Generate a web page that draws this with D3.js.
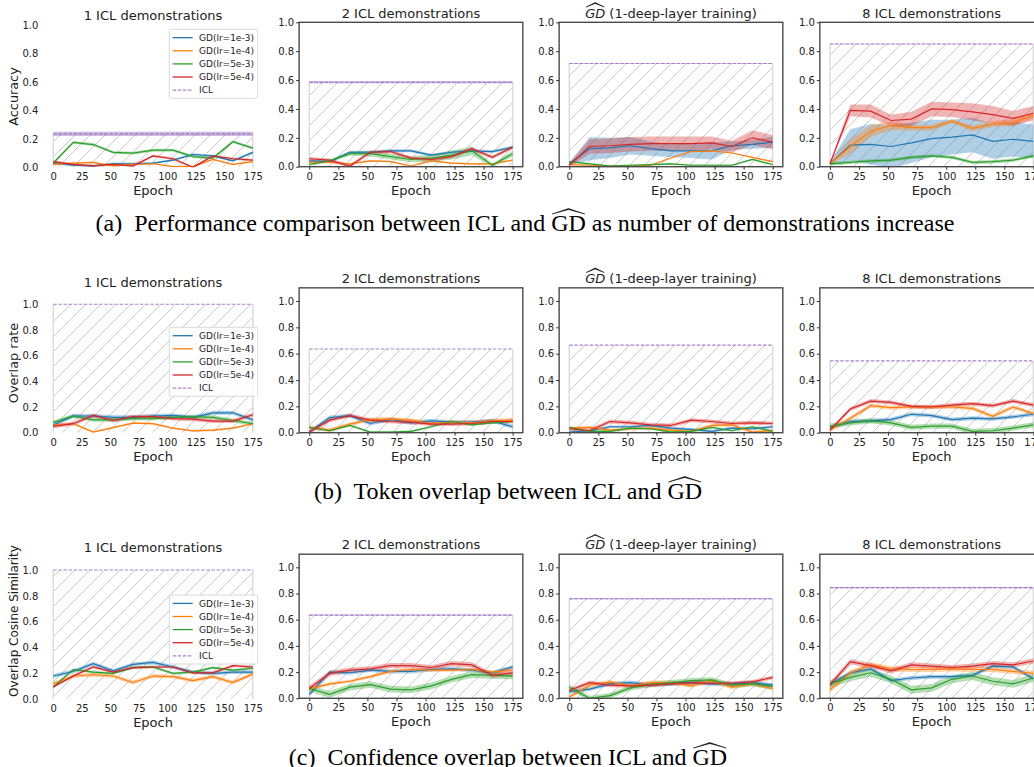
<!DOCTYPE html>
<html>
<head>
<meta charset="utf-8">
<script src="https://cdn.jsdelivr.net/npm/d3@7"></script>
<style>
  body { margin: 0; background: #fff; }
  text { font-family: "DejaVu Sans", sans-serif; }
</style>
</head>
<body>
<script>
// epochs sampled along the x axis
var epochs = [0, 17.5, 35, 52.5, 70, 87.5, 105, 122.5, 140, 157.5, 175];
var xTicks = [0, 25, 50, 75, 100, 125, 150, 175];
var yTicks = [0, 0.2, 0.4, 0.6, 0.8, 1.0];

var seriesNames = ["GD(lr=1e-3)", "GD(lr=1e-4)", "GD(lr=5e-3)", "GD(lr=5e-4)"];
var seriesColors = ["#1f77b4", "#ff7f0e", "#2ca02c", "#d62728"];
var iclName = "ICL";
var iclColor = "#9467bd";

var panelTitles = ["1 ICL demonstrations", "2 ICL demonstrations", "GD", "8 ICL demonstrations"];
var rowYLabels = ["Accuracy", "Overlap rate", "Overlap Cosine Similarity"];
var captions = [
  ["(a)  Performance comparison between ICL and ", " as number of demonstrations increase"],
  ["(b)  Token overlap between ICL and ", ""],
  ["(c)  Confidence overlap between ICL and ", ""]
];

// row (a): accuracy, series order blue, orange, green, red
var acc1 = [
  [0.03, 0.015, 0.01, 0.025, 0.025, 0.03, 0.05, 0.09, 0.08, 0.045, 0.105],
  [0.02, 0.03, 0.035, 0.01, 0.02, 0.025, 0.005, 0.005, 0.055, 0.02, 0.04],
  [0.03, 0.175, 0.16, 0.105, 0.10, 0.12, 0.12, 0.075, 0.065, 0.18, 0.135],
  [0.04, 0.02, 0.01, 0.02, 0.01, 0.08, 0.06, 0.0, 0.08, 0.06, 0.05]
];
var acc1Sd = [0.008, 0.006, 0.01, 0.008];
var acc2 = [
  [0.04, 0.035, 0.10, 0.10, 0.11, 0.11, 0.08, 0.10, 0.11, 0.105, 0.135],
  [0.03, 0.03, 0.02, 0.04, 0.035, 0.005, 0.04, 0.025, 0.02, 0.02, 0.045],
  [0.015, 0.04, 0.09, 0.09, 0.07, 0.05, 0.06, 0.08, 0.11, 0.01, 0.09],
  [0.055, 0.045, 0.005, 0.10, 0.105, 0.06, 0.05, 0.07, 0.125, 0.065, 0.135]
];
var acc2Sd = [0.01, 0.006, [0.01, 0.01, 0.015, 0.02, 0.02, 0.02, 0.025, 0.03, 0.03, 0.01, 0.02], 0.012];
var acc3 = [
  [0.02, 0.125, 0.13, 0.145, 0.125, 0.11, 0.11, 0.11, 0.145, 0.155, 0.17],
  [0.015, 0.01, 0.005, 0.005, 0.01, 0.06, 0.105, 0.11, 0.095, 0.065, 0.035],
  [0.035, 0.02, 0.005, 0.01, 0.015, 0.02, 0.01, 0.01, 0.01, 0.05, 0.015],
  [0.01, 0.14, 0.145, 0.155, 0.16, 0.16, 0.16, 0.165, 0.14, 0.20, 0.17]
];
var acc3Sd = [
  [0.01, 0.08, 0.07, 0.06, 0.05, 0.045, 0.05, 0.06, 0.03, 0.03, 0.04],
  0.004, 0.006,
  [0.01, 0.05, 0.05, 0.05, 0.05, 0.05, 0.05, 0.045, 0.04, 0.05, 0.05]
];
var acc8 = [
  [0.02, 0.15, 0.155, 0.14, 0.165, 0.195, 0.205, 0.22, 0.175, 0.19, 0.175],
  [0.02, 0.14, 0.245, 0.285, 0.27, 0.27, 0.315, 0.265, 0.295, 0.305, 0.355],
  [0.02, 0.03, 0.04, 0.045, 0.065, 0.075, 0.065, 0.03, 0.035, 0.045, 0.075],
  [0.02, 0.39, 0.385, 0.32, 0.33, 0.40, 0.395, 0.38, 0.36, 0.335, 0.37]
];
var acc8Sd = [
  [0.01, 0.11, 0.14, 0.15, 0.14, 0.13, 0.12, 0.12, 0.12, 0.12, 0.115],
  [0.005, 0.05, 0.04, 0.03, 0.02, 0.02, 0.015, 0.02, 0.02, 0.025, 0.02],
  0.012,
  [0.005, 0.04, 0.045, 0.04, 0.05, 0.05, 0.05, 0.06, 0.06, 0.05, 0.05]
];
var iclAcc = [0.235, 0.585, 0.715, 0.85];
var iclAccSd = [0.015, 0.008, 0.002, 0.002];

// row (b): token overlap rate
var ovl1 = [
  [0.06, 0.13, 0.13, 0.12, 0.12, 0.13, 0.135, 0.12, 0.155, 0.155, 0.10],
  [0.06, 0.07, 0.005, 0.04, 0.075, 0.07, 0.035, 0.015, 0.02, 0.035, 0.07],
  [0.08, 0.13, 0.10, 0.10, 0.11, 0.11, 0.12, 0.125, 0.12, 0.095, 0.07],
  [0.05, 0.07, 0.135, 0.095, 0.125, 0.125, 0.11, 0.105, 0.09, 0.09, 0.14]
];
var ovl1Sd = [0.015, 0.008, 0.015, 0.015];
var ovl2 = [
  [0.005, 0.115, 0.13, 0.07, 0.10, 0.075, 0.09, 0.08, 0.08, 0.09, 0.045],
  [0.04, 0.02, 0.065, 0.10, 0.105, 0.095, 0.07, 0.08, 0.075, 0.09, 0.095],
  [0.04, 0.015, 0.055, 0.005, 0.005, 0.01, 0.045, 0.085, 0.06, 0.075, 0.085],
  [0.005, 0.095, 0.13, 0.095, 0.085, 0.08, 0.065, 0.065, 0.07, 0.085, 0.085]
];
var ovl2Sd = [0.015, 0.015, 0.008, 0.015];
var ovl3 = [
  [0.005, 0.015, 0.045, 0.045, 0.055, 0.035, 0.025, 0.01, 0.035, 0.03, 0.045],
  [0.035, 0.04, 0.02, 0.03, 0.035, 0.02, 0.01, 0.055, 0.06, 0.005, 0.015],
  [0.04, 0.01, 0.01, 0.035, 0.03, 0.005, 0.01, 0.04, 0.015, 0.045, 0.01],
  [0.03, 0.015, 0.085, 0.075, 0.06, 0.055, 0.095, 0.085, 0.07, 0.075, 0.07]
];
var ovl3Sd = [0.01, 0.012, 0.008, 0.015];
var ovl8 = [
  [0.04, 0.085, 0.09, 0.10, 0.14, 0.13, 0.10, 0.11, 0.105, 0.12, 0.14],
  [0.02, 0.11, 0.205, 0.19, 0.195, 0.195, 0.195, 0.185, 0.125, 0.195, 0.145],
  [0.05, 0.075, 0.09, 0.075, 0.04, 0.05, 0.05, 0.01, 0.015, 0.035, 0.06],
  [0.02, 0.18, 0.24, 0.23, 0.20, 0.195, 0.21, 0.22, 0.205, 0.24, 0.21]
];
var ovl8Sd = [0.015, 0.015, 0.02, 0.015];
var iclOvl = [1.0, 0.635, 0.665, 0.545];
var iclOvlSd = [0, 0, 0, 0];

// row (c): confidence overlap cosine similarity
var conf1 = [
  [0.18, 0.215, 0.275, 0.22, 0.27, 0.285, 0.25, 0.21, 0.20, 0.21, 0.21],
  [0.12, 0.18, 0.19, 0.18, 0.13, 0.18, 0.175, 0.145, 0.175, 0.13, 0.195],
  [0.095, 0.23, 0.21, 0.2, 0.245, 0.25, 0.2, 0.21, 0.245, 0.225, 0.24],
  [0.095, 0.18, 0.25, 0.21, 0.245, 0.25, 0.25, 0.205, 0.205, 0.26, 0.25]
];
var conf1Sd = [0.015, 0.015, 0.01, 0.01];
var conf2 = [
  [0.03, 0.2, 0.195, 0.215, 0.205, 0.205, 0.22, 0.225, 0.215, 0.195, 0.24],
  [0.07, 0.11, 0.13, 0.165, 0.205, 0.22, 0.215, 0.215, 0.22, 0.2, 0.22],
  [0.075, 0.03, 0.085, 0.105, 0.07, 0.065, 0.095, 0.145, 0.18, 0.175, 0.17],
  [0.075, 0.19, 0.215, 0.225, 0.25, 0.25, 0.235, 0.265, 0.255, 0.175, 0.195]
];
var conf2Sd = [0.015, 0.012, 0.025, 0.02];
var conf3 = [
  [0.05, 0.07, 0.11, 0.12, 0.105, 0.11, 0.12, 0.11, 0.11, 0.12, 0.1],
  [0.01, 0.1, 0.125, 0.095, 0.12, 0.12, 0.095, 0.135, 0.085, 0.11, 0.075],
  [0.085, 0.0, 0.02, 0.08, 0.105, 0.12, 0.135, 0.14, 0.1, 0.11, 0.09],
  [0.06, 0.12, 0.1, 0.095, 0.1, 0.11, 0.12, 0.115, 0.115, 0.125, 0.16]
];
var conf3Sd = [0.015, 0.015, 0.02, 0.015];
var conf8 = [
  [0.105, 0.195, 0.225, 0.135, 0.155, 0.165, 0.165, 0.175, 0.245, 0.24, 0.15],
  [0.065, 0.195, 0.255, 0.225, 0.22, 0.22, 0.225, 0.22, 0.22, 0.205, 0.19],
  [0.11, 0.16, 0.195, 0.145, 0.065, 0.08, 0.145, 0.17, 0.13, 0.11, 0.155],
  [0.105, 0.28, 0.25, 0.21, 0.255, 0.245, 0.235, 0.245, 0.265, 0.255, 0.285]
];
var conf8Sd = [0.015, 0.02, 0.03, 0.02];
var iclConf = [1.0, 0.635, 0.76, 0.845];
var iclConfSd = [0, 0.004, 0.005, 0.005];

var rowData = [[acc1, acc2, acc3, acc8], [ovl1, ovl2, ovl3, ovl8], [conf1, conf2, conf3, conf8]];
var rowSd = [[acc1Sd, acc2Sd, acc3Sd, acc8Sd], [ovl1Sd, ovl2Sd, ovl3Sd, ovl8Sd], [conf1Sd, conf2Sd, conf3Sd, conf8Sd]];
var rowIcl = [iclAcc, iclOvl, iclConf];
var rowIclSd = [iclAccSd, iclOvlSd, iclConfSd];

// layout (pixels)
var xLim = [-8.75, 183.75];
var colX0 = [53.3, 309.3, 569.3, 830];
var colK = [1.14, 1.162, 1.162, 1.162];
var rowGeom = [
  { zero: [167.3, 166.7, 166.7, 166.7], one: [25, 22.3, 22.3, 22.3], top: 1.0, legendTop: 29.3, caption: 231, labelY: 96.5 },
  { zero: [432.7, 432.7, 432.7, 432.7], one: [304.3, 301, 301, 301], top: 1.1, legendTop: 327.3, caption: 499, labelY: 363 },
  { zero: [699.3, 698.3, 698.3, 698.3], one: [570, 567.3, 567.3, 567.3], top: 1.1, legendTop: 595, caption: 765, labelY: 621 }
];
var captionX = [525, 508, 508];

var svg = d3.select("body").append("svg").attr("width", 1034).attr("height", 767);
var defs = svg.append("defs");
var hatch = defs.append("pattern").attr("id", "hatch")
  .attr("patternUnits", "userSpaceOnUse").attr("width", 15).attr("height", 15);
hatch.append("path")
  .attr("d", "M0,15 L15,0 M-3.75,3.75 L3.75,-3.75 M11.25,18.75 L18.75,11.25")
  .attr("stroke", "#bdbdbd").attr("stroke-width", 0.8);

function sdAt(s, i) { return Array.isArray(s) ? s[i] : s; }

// wide hat above a text run, like \widehat
function drawHat(node, lift, rise) {
  var b = node.getBBox();
  var x0 = b.x + 1, x1 = b.x + b.width - 1, yb = b.y + lift;
  svg.append("path")
    .attr("d", "M" + x0 + "," + yb + " L" + (x0 + x1) / 2 + "," + (yb - rise) + " L" + x1 + "," + yb +
      " L" + (x0 + x1) / 2 + "," + (yb - rise * 0.8) + " Z")
    .attr("fill", "#000").attr("stroke", "#000").attr("stroke-width", 0.5);
}

function drawPanel(row, col) {
  var geo = rowGeom[row];
  var x = d3.scaleLinear().domain([0, 175]).range([colX0[col], colX0[col] + 175 * colK[col]]);
  var y = d3.scaleLinear().domain([0, 1]).range([geo.zero[col], geo.one[col]]);
  var left = x(xLim[0]), right = x(xLim[1]), top = y(geo.top), bottom = y(0);
  var id = "clip" + row + col;
  defs.append("clipPath").attr("id", id).append("rect")
    .attr("x", left).attr("y", top).attr("width", right - left).attr("height", bottom - top);
  var g = svg.append("g");
  var plot = g.append("g").attr("clip-path", "url(#" + id + ")");

  // ICL region, hatched
  var icl = rowIcl[row][col], iclSd = rowIclSd[row][col];
  plot.append("rect")
    .attr("x", x(0)).attr("y", y(icl)).attr("width", x(175) - x(0)).attr("height", y(0) - y(icl))
    .attr("fill", "url(#hatch)");
  [0, 175].forEach(function(e) {
    plot.append("line").attr("x1", x(e)).attr("x2", x(e)).attr("y1", y(0)).attr("y2", y(icl))
      .attr("stroke", "#dcdcdc").attr("stroke-width", 1.5);
  });

  var series = rowData[row][col], sds = rowSd[row][col];
  series.forEach(function(vals, s) {
    var area = d3.area()
      .x(function(d, i) { return x(epochs[i]); })
      .y0(function(d, i) { return y(d - sdAt(sds[s], i)); })
      .y1(function(d, i) { return y(d + sdAt(sds[s], i)); });
    plot.append("path").attr("d", area(vals))
      .attr("fill", seriesColors[s]).attr("fill-opacity", 0.35);
  });
  series.forEach(function(vals, s) {
    var line = d3.line().x(function(d, i) { return x(epochs[i]); }).y(function(d) { return y(d); });
    plot.append("path").attr("d", line(vals))
      .attr("fill", "none").attr("stroke", seriesColors[s]).attr("stroke-width", 1.2);
  });

  if (iclSd > 0) {
    plot.append("rect").attr("x", x(0)).attr("y", y(icl + iclSd))
      .attr("width", x(175) - x(0)).attr("height", y(icl - iclSd) - y(icl + iclSd))
      .attr("fill", iclColor).attr("fill-opacity", 0.45);
  }
  plot.append("line").attr("x1", x(0)).attr("x2", x(175)).attr("y1", y(icl)).attr("y2", y(icl))
    .attr("stroke", iclColor).attr("stroke-opacity", 0.8).attr("stroke-width", 1.1)
    .attr("stroke-dasharray", "3.5,1.6");

  if (col > 0) {
    g.append("rect").attr("x", left).attr("y", top).attr("width", right - left).attr("height", bottom - top)
      .attr("fill", "none").attr("stroke", "#4a4a4a").attr("stroke-width", 1.4);
  }

  var xa = g.append("g").attr("transform", "translate(0," + bottom + ")")
    .call(d3.axisBottom(x).tickValues(xTicks).tickSize(col > 0 ? 3 : 0).tickPadding(col > 0 ? 3 : 6));
  var ya = g.append("g").attr("transform", "translate(" + left + ",0)")
    .call(d3.axisLeft(y).tickValues(yTicks).tickFormat(d3.format(".1f")).tickSize(col > 0 ? 3 : 0).tickPadding(col > 0 ? 2 : 5));
  [xa, ya].forEach(function(a) {
    a.select(".domain").remove();
    a.attr("font-family", "DejaVu Sans").attr("font-size", 10);
    a.selectAll("line").attr("stroke", "#333");
    a.selectAll("text").attr("fill", "#222");
  });

  var cx = (left + right) / 2;
  g.append("text").attr("x", cx).attr("y", bottom + 28).attr("text-anchor", "middle")
    .attr("font-size", 13).attr("fill", "#222").text("Epoch");

  var title = g.append("text").attr("x", cx).attr("y", top - 4.8).attr("text-anchor", "middle")
    .attr("font-size", 13).attr("fill", "#222");
  if (col === 2) {
    var gd = title.append("tspan").attr("font-style", "italic").text(panelTitles[col]);
    title.append("tspan").text(" (1-deep-layer training)");
    drawHat(gd.node(), 1.5, 4.5);
  } else {
    title.text(panelTitles[col]);
  }

  if (col === 0) {
    g.append("text").attr("transform", "translate(18," + geo.labelY + ") rotate(-90)")
      .attr("text-anchor", "middle").attr("font-size", row === 2 ? 12 : 12.8).attr("fill", "#222")
      .text(rowYLabels[row]);
    // legend
    var lg = g.append("g").attr("transform", "translate(169.3," + geo.legendTop + ")");
    lg.append("rect").attr("width", 88.4).attr("height", 69).attr("rx", 2)
      .attr("fill", "#fff").attr("fill-opacity", 0.8).attr("stroke", "#d0d0d0").attr("stroke-width", 0.8);
    var names = seriesNames.concat([iclName]);
    var cols = seriesColors.concat([iclColor]);
    names.forEach(function(n, i) {
      var ly = 8.4 + i * 13.1;
      var l = lg.append("line").attr("x1", 3.4).attr("x2", 23.4).attr("y1", ly).attr("y2", ly)
        .attr("stroke", cols[i]).attr("stroke-width", 1.3);
      if (i === 4) l.attr("stroke-dasharray", "3.5,1.6").attr("stroke-opacity", 0.8);
      lg.append("text").attr("x", 29.7).attr("y", ly + 3.2).attr("font-size", 9).attr("fill", "#222").text(n);
    });
  }
}

for (var r = 0; r < 3; r++) {
  for (var c = 0; c < 4; c++) drawPanel(r, c);
  var cap = svg.append("text").attr("x", captionX[r]).attr("y", rowGeom[r].caption)
    .attr("text-anchor", "middle").attr("font-size", 24).attr("fill", "#000")
    .style("font-family", "'Liberation Serif', 'Times New Roman', serif").style("white-space", "pre");
  cap.append("tspan").text(captions[r][0]);
  var gdSpan = cap.append("tspan").text("GD");
  cap.append("tspan").text(captions[r][1]);
  drawHat(gdSpan.node(), 4, 5.5);
}
</script>
</body>
</html>
